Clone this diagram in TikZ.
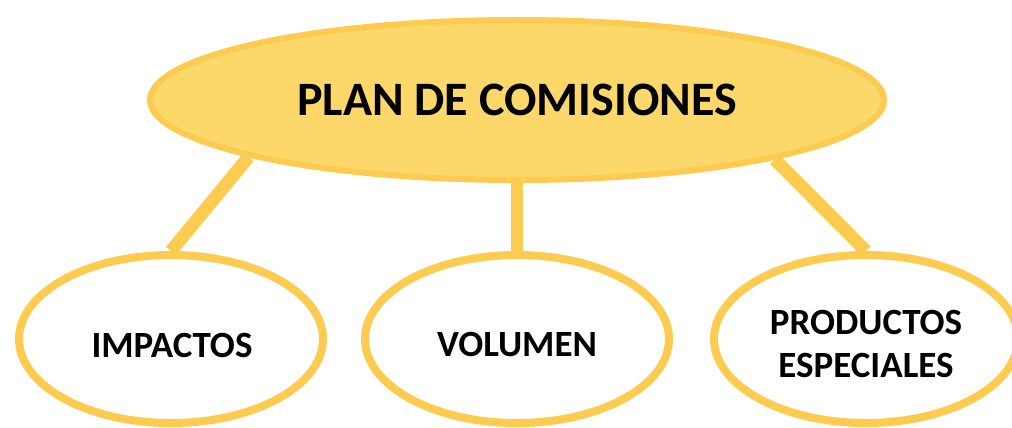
\documentclass[tikz,border=0pt]{standalone}
\usepackage{fontspec}
\setmainfont{Carlito}
\usetikzlibrary{shapes.geometric,backgrounds}
\definecolor{bordery}{HTML}{FDCB4F}
\definecolor{filly}{HTML}{FCD76A}
\begin{document}
\begin{tikzpicture}[x=1pt,y=-1pt,
  mainell/.style={ellipse,draw=bordery,fill=filly,line width=6pt,inner sep=0pt,
    minimum width=734pt,minimum height=160pt},
  subell/.style={ellipse,draw=bordery,fill=white,line width=8pt,inner sep=0pt,
    minimum width=304pt,minimum height=168pt},
  maintext/.style={inner sep=0pt,font=\fontsize{48}{54}\selectfont\bfseries},
  subtext/.style={inner sep=0pt,align=center,font=\fontsize{37}{43}\selectfont\bfseries},
  link/.style={draw=bordery,line width=13pt}]
\useasboundingbox (0,0) rectangle (1012,428);
\node[mainell] (top) at (517,100) {};
\node[subell] (left) at (171,339) {};
\node[subell] (mid) at (517,339) {};
\node[subell] (right) at (866,339) {};
\node[maintext] (toptxt) at (top.center) {PLAN DE COMISIONES};
\node[subtext] (lefttxt) at (172,345) {IMPACTOS};
\node[subtext] (midtxt) at (517,345) {VOLUMEN};
\node[subtext] (righttxt) at (866,344) {PRODUCTOS\\ESPECIALES};
\begin{scope}[on background layer]
\draw[link] (top.192.6) -- (left.north);
\draw[link,line width=12pt] (top.south) -- (mid.north);
\draw[link] (top.347.4) -- (right.north);
\end{scope}
\end{tikzpicture}
\end{document}
